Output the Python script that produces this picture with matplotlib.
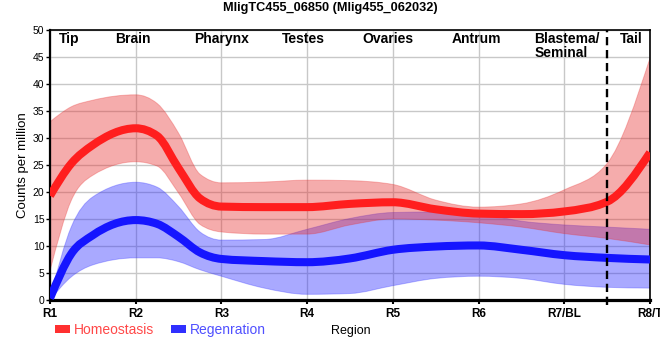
import numpy as np
import matplotlib.pyplot as plt
from matplotlib.path import Path
from matplotlib.patches import PathPatch, Patch

plt.rcParams['font.family'] = ['Liberation Sans', 'DejaVu Sans']

# values at the regions and at points between them
regions = ['R1', 'R2', 'R3', 'R4', 'R5', 'R6', 'R7/BL', 'R8/T']
pos = [0, 0.25, 0.5, 1, 1.25, 1.5, 1.75, 2, 2.5, 3, 3.5, 4, 4.5, 5, 5.5, 6, 6.5, 7]
homeo_mid = [19.3, 25.3, 28.7, 31.8, 30.4, 24.4, 18.8, 17.3, 17.2, 17.2, 17.8, 18.1, 16.8,
             16.0, 15.9, 16.4, 18.2, 27.3]
homeo_hi = [33.0, 35.8, 37.0, 38.0, 36.4, 30.9, 23.3, 21.7, 21.85, 22.2, 22.1, 21.4, 18.5,
            17.2, 17.8, 20.4, 25.3, 44.8]
homeo_lo = [5.4, 18.5, 23.1, 25.6, 24.8, 19.8, 14.0, 12.6, 12.2, 12.2, 13.9, 15.0, 14.8,
            14.3, 13.5, 12.3, 11.4, 10.2]
regen_mid = [0.3, 8.6, 12.0, 14.8, 14.1, 11.7, 8.8, 7.6, 7.2, 7.0, 7.7, 9.3, 9.9,
             10.1, 9.3, 8.3, 7.8, 7.5]
regen_hi = [0.3, 13.6, 19.1, 21.8, 20.9, 17.3, 12.6, 11.1, 11.2, 13.1, 15.1, 16.2, 16.3,
            16.0, 14.6, 13.9, 13.5, 13.1]
regen_lo = [0.0, 4.3, 6.5, 7.8, 7.8, 7.1, 5.6, 4.4, 2.2, 1.05, 1.2, 2.65, 4.0,
            4.4, 4.0, 2.9, 2.35, 2.2]

anatomy = ['Tip', 'Brain', 'Pharynx', 'Testes', 'Ovaries', 'Antrum', 'Blastema/\nSeminal', 'Tail']
anatomy_x = [0.22, 0.97, 2.0, 2.96, 3.94, 4.98, 5.65, 6.78]


def monotone_slopes(x, y):
    # same tangents as d3.curveMonotoneX
    x = np.asarray(x, float)
    y = np.asarray(y, float)
    n = len(x)
    h = np.diff(x)
    s = np.diff(y) / h
    t = np.zeros(n)
    for i in range(1, n - 1):
        p = (s[i-1] * h[i] + s[i] * h[i-1]) / (h[i-1] + h[i])
        t[i] = (np.sign(s[i-1]) + np.sign(s[i])) * min(abs(s[i-1]), abs(s[i]), 0.5 * abs(p))
    t[0] = (3 * s[0] - t[1]) / 2
    t[-1] = (3 * s[-1] - t[-2]) / 2
    return t


def bezier_segments(x, y):
    t = monotone_slopes(x, y)
    verts = [(x[0], y[0])]
    codes = [Path.MOVETO]
    for i in range(len(x) - 1):
        dx = (x[i+1] - x[i]) / 3
        verts += [(x[i] + dx, y[i] + dx * t[i]),
                  (x[i+1] - dx, y[i+1] - dx * t[i+1]),
                  (x[i+1], y[i+1])]
        codes += [Path.CURVE4] * 3
    return verts, codes


def curve_path(x, y):
    verts, codes = bezier_segments(x, y)
    return Path(verts, codes)


def band_path(x, lo, hi):
    v1, c1 = bezier_segments(x, hi)
    v2, c2 = bezier_segments(x[::-1], lo[::-1])
    c2[0] = Path.LINETO
    verts = v1 + v2 + [v1[0]]
    codes = c1 + c2 + [Path.CLOSEPOLY]
    return Path(verts, codes)


fig = plt.figure(figsize=(6.6, 3.6), dpi=100)
ax = fig.add_axes([50/660, 60/360, 600/660, 270/360])

blue_band = '#2a2aff'
red_band = '#e83030'
for lo, hi, col in [(regen_lo, regen_hi, blue_band), (homeo_lo, homeo_hi, red_band)]:
    ax.add_patch(PathPatch(band_path(pos, lo, hi), facecolor=col, alpha=0.4,
                           edgecolor='none', zorder=2))
    # faint outline of the band
    ax.add_patch(PathPatch(curve_path(pos, hi), facecolor='none', edgecolor=col,
                           alpha=0.3, lw=0.7, zorder=2))
    ax.add_patch(PathPatch(curve_path(pos, lo), facecolor='none', edgecolor=col,
                           alpha=0.3, lw=0.7, zorder=2))

ax.add_patch(PathPatch(curve_path(pos, regen_mid), facecolor='none', edgecolor='#1515ff',
                       lw=5.8, zorder=3, capstyle='butt'))
ax.add_patch(PathPatch(curve_path(pos, homeo_mid), facecolor='none', edgecolor='#ff1e1e',
                       lw=5.8, zorder=4, capstyle='butt'))

ax.axvline(6.5, ymin=-0.02, color='black', lw=1.7, ls=(0, (3.5, 2)), zorder=5, clip_on=False)

ax.set_xlim(0, 7)
ax.set_ylim(0, 50)
ax.set_xticks(range(len(regions)))
ax.set_xticklabels(regions, fontweight='bold', fontsize=8.5)
ax.set_yticks(np.arange(0, 51, 5))
ax.tick_params(axis='y', labelsize=7.5, length=3, width=1, pad=1)
ax.tick_params(axis='x', length=3, width=1.5, pad=3)
ax.grid(True, color='#c8c8c8', lw=1)
ax.set_axisbelow(True)
for side in ['top', 'right']:
    ax.spines[side].set_linewidth(1.2)
ax.spines['left'].set_linewidth(1.6)
ax.spines['bottom'].set_linewidth(2.3)

for name, px in zip(anatomy, anatomy_x):
    ha = 'left' if '\n' in name else 'center'
    ax.text(px, 0.992, name, transform=ax.get_xaxis_transform(), ha=ha, va='top',
            fontsize=10, fontweight='bold', linespacing=1.0, zorder=6)

ax.set_ylabel('Counts per million', fontsize=9.5, labelpad=3)
fig.text(351/660, 1 - 331/360, 'Region', ha='center', va='center', fontsize=9)
fig.suptitle('MligTC455_06850 (Mlig455_062032)', x=0.5, y=0.995, va='top',
             fontsize=9.2, fontweight='bold')

handles = [Patch(facecolor='#ff3030'), Patch(facecolor='#3030ff')]
fig.legend(handles, ['Homeostasis', 'Regenration'], loc='center left',
           bbox_to_anchor=(55/660, 1 - 330/360), ncol=2, frameon=False, fontsize=10,
           labelcolor=['#ff4848', '#5050ff'], handlelength=1.08, handleheight=0.45,
           handletextpad=0.3, columnspacing=1.2, borderpad=0, borderaxespad=0)

fig.savefig('out.png', dpi=100)
